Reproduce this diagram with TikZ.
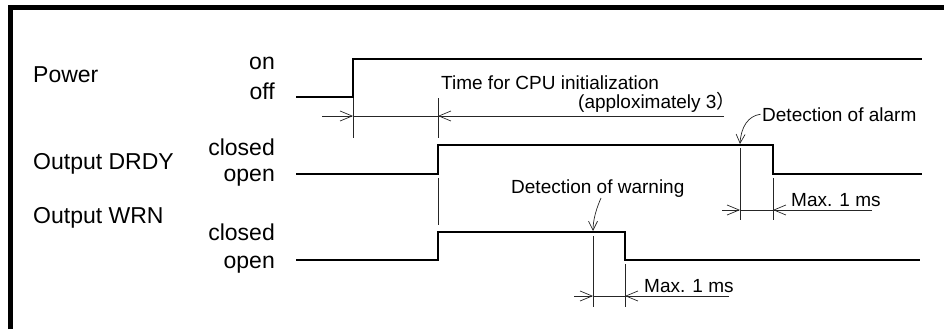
\documentclass[tikz,border=0pt]{standalone}
\usepackage{fontspec}
\setmainfont{Liberation Sans}
\newfontfamily\cjkfont{Noto Sans CJK JP}
\usepackage{tikz}
\usetikzlibrary{arrows.meta,positioning}

\begin{document}
\begin{tikzpicture}[
    x=1pt, y=1pt,
    sig/.style={line width=1.8pt, line join=miter},
    thin line/.style={line width=0.7pt, black!85},
    dimarrow/.style={thin line, -{Straight Barb[length=12pt, width=10pt, line width=0.7pt]}},
    callout/.style={thin line, -{Straight Barb[length=9pt, width=9pt, line width=0.7pt]}},
    signame/.style={font=\fontsize{23}{27}\selectfont, inner sep=0pt, anchor=base west},
    level/.style={font=\fontsize{23}{27}\selectfont, inner sep=0pt, anchor=base east},
    note/.style={font=\fontsize{19}{23}\selectfont, inner sep=0pt, anchor=base west}
]
\useasboundingbox (0,0) rectangle (944,-329);

% Frame - top and left only
\draw[line width=4.7pt, line join=miter] (10.3,-329) -- (10.3,-7.5) -- (944,-7.5);

% Signal names
\node[signame] (power) at (33,-82) {Power};
\node[signame] (drdy) at (33,-169) {Output DRDY};
\node[signame] (wrn) at (33,-223) {Output WRN};

% Levels
\node[level] (pon) at (275,-70) {on};
\node[level] (poff) at (275,-99) {off};
\node[level] (dclosed) at (275,-155) {closed};
\node[level] (dopen) at (275,-181) {open};
\node[level] (wclosed) at (275,-240) {closed};
\node[level] (wopen) at (275,-268) {open};

% Waveforms
\draw[sig] (296,-97) -- (353,-97) -- (353,-59) -- (922,-59);
\draw[sig] (296,-174) -- (438,-174) -- (438,-145) -- (773,-145) -- (773,-174) -- (922,-174);
\draw[sig] (296,-260) -- (438,-260) -- (438,-232) -- (625,-232) -- (625,-260) -- (920,-260);

% Extension lines
\draw[thin line] (353,-98) -- (353,-138);
\draw[thin line] (438,-98) -- (438,-138);
\draw[thin line] (438,-178) -- (438,-225);
\draw[thin line] (740,-148) -- (740,-220);
\draw[thin line] (773,-178) -- (773,-220);
\draw[thin line] (593,-236) -- (593,-307);
\draw[thin line] (625,-264) -- (625,-307);

% CPU initialization time
\coordinate (pa) at (353,-116);
\coordinate (pb) at (438,-116);
\draw[dimarrow] (322,-116) -- (pa);
\draw[thin line] (pa) -- (pb);
\draw[dimarrow] (724,-116) -- (pb);
\node[note] (cputxt) at (441,-89) {Time for CPU initialization};
\node[note] (approx) at (578,-108) {(apploximately 3{\cjkfont ）}};

% Alarm delay
\coordinate (aa) at (740,-210);
\coordinate (ab) at (773,-210);
\draw[dimarrow] (722,-210) -- (aa);
\draw[thin line] (aa) -- (ab);
\draw[dimarrow] (872,-210) -- (ab);
\node[note] (amax) at (791,-206) {Max. 1 ms};
\node[note] (alarmtxt) at (762,-121) {Detection of alarm};
\coordinate (alarmpt) at (740,-144);
\draw[callout] ([xshift=-1.5pt]alarmtxt.west) .. controls (748,-116) and (741,-127) .. (alarmpt);

% Warning delay
\coordinate (wa) at (593,-296);
\coordinate (wb) at (625,-296);
\draw[dimarrow] (574,-296) -- (wa);
\draw[thin line] (wa) -- (wb);
\draw[dimarrow] (729,-296) -- (wb);
\node[note] (wmax) at (644,-292) {Max. 1 ms};
\node[note] (warntxt) at (511,-193) {Detection of warning};
\coordinate (warnfrom) at (601,-198);
\coordinate (warnpt) at (593,-231);
\draw[callout] (warnfrom) .. controls (597,-207) and (593,-219) .. (warnpt);

\end{tikzpicture}
\end{document}
